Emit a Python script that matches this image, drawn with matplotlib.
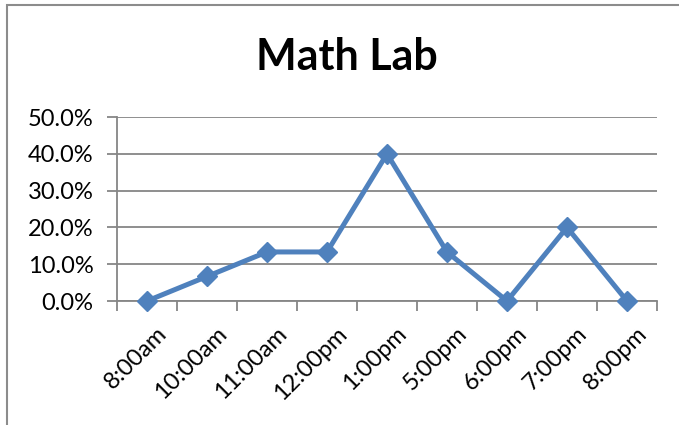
import matplotlib
matplotlib.use("Agg")
import matplotlib.pyplot as plt
from matplotlib.patches import Rectangle
from matplotlib.ticker import PercentFormatter, FixedLocator
import numpy as np

times = ["8:00am", "10:00am", "11:00am", "12:00pm", "1:00pm", "5:00pm", "6:00pm", "7:00pm", "8:00pm"]
values = [0.0, 0.0667, 0.1333, 0.1333, 0.40, 0.1333, 0.0, 0.20, 0.0]
yticks = [0.0, 0.1, 0.2, 0.3, 0.4, 0.5]
title = "Math Lab"

plt.rcParams['font.family'] = ['Lato', 'DejaVu Sans']

W, H = 679, 425
fig = plt.figure(figsize=(W / 100, H / 100), dpi=100)
fig.patch.set_facecolor('white')

# outer chart border
fig.patches.append(Rectangle((7 / W, -0.1), 1.2, 1 - 5 / H + 0.1, transform=fig.transFigure,
                             fill=False, edgecolor='#8c8c8c', linewidth=1.5))

ax = fig.add_axes([117 / W, 1 - 301 / H, 540 / W, 184 / H])
x = np.arange(len(times))
ax.plot(x, values, color='#4F81BD', linewidth=3.6, marker='D', markersize=10.5,
        markerfacecolor='#4F81BD', markeredgecolor='#4F81BD', zorder=3, clip_on=False)

ax.set_xlim(-0.5, len(times) - 0.5)
ax.set_ylim(0, 0.5)
ax.set_yticks(yticks)
ax.yaxis.set_major_formatter(PercentFormatter(1.0, decimals=1))
ax.grid(axis='y', color='#868686', linewidth=1.3)
ax.set_axisbelow(True)

for s in ['top', 'right']:
    ax.spines[s].set_visible(False)
for s in ['left', 'bottom']:
    ax.spines[s].set_color('#868686')
    ax.spines[s].set_linewidth(1.3)

ax.tick_params(axis='y', length=7, width=1.3, color='#868686', labelsize=17, pad=10)
ax.set_xticks(x)
ax.set_xticklabels(times, rotation=45, ha='right', rotation_mode='anchor', fontsize=17)
ax.tick_params(axis='x', which='major', length=0, pad=16)
ax.xaxis.set_minor_locator(FixedLocator(np.arange(len(times) + 1) - 0.5))
ax.tick_params(axis='x', which='minor', length=7, width=1.3, color='#868686')
for lbl in ax.get_xticklabels():
    lbl.set_transform(lbl.get_transform() + matplotlib.transforms.ScaledTranslation(9 / 100, 0, fig.dpi_scale_trans))

fig.text(347 / W, 1 - 57 / H, title, ha='center', va='center', fontsize=31, fontweight='bold')

fig.savefig("out.png", dpi=100)
